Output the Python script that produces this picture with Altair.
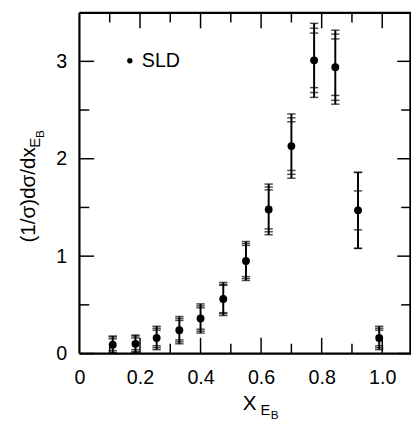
import altair as alt
import pandas as pd

# ---- data ----
x_vals = [0.11, 0.185, 0.255, 0.33, 0.40, 0.475, 0.55, 0.625, 0.70, 0.775, 0.845, 0.92, 0.99]
y_vals = [0.09, 0.10, 0.16, 0.24, 0.36, 0.56, 0.95, 1.48, 2.13, 3.01, 2.94, 1.47, 0.16]
err_stat = [0.06, 0.06, 0.08, 0.10, 0.11, 0.14, 0.16, 0.20, 0.25, 0.28, 0.29, 0.20, 0.08]
err_mid = [0.08, 0.08, 0.10, 0.12, 0.13, 0.15, 0.18, 0.23, 0.29, 0.33, 0.34, 0.39, 0.10]
err_tot = [0.09, 0.09, 0.12, 0.14, 0.15, 0.17, 0.20, 0.26, 0.33, 0.38, 0.38, 0.39, 0.12]

x_major_ticks = [0.2, 0.4, 0.6, 0.8, 1.0]
x_minor_ticks = [0.1, 0.3, 0.5, 0.7, 0.9]
y_major_ticks = [0, 1, 2, 3]
y_minor_ticks = [0.5, 1.5, 2.5]
x_label_values = [0, 0.2, 0.4, 0.6, 0.8, 1.0]
y_label_values = [0, 1, 2, 3]
legend_label = ["SLD"]

FONT = "Liberation Sans"
W, H = 337.5, 347
X_DOMAIN = [0, 1.095]
Y_DOMAIN = [0, 3.5]

df = pd.DataFrame({"x": x_vals, "y": y_vals,
                   "lo": [y - e for y, e in zip(y_vals, err_tot)],
                   "hi": [y + e for y, e in zip(y_vals, err_tot)]})

cap_rows = []
for xv, yv, a, b, c in zip(x_vals, y_vals, err_stat, err_mid, err_tot):
    for e in (a, b, c):
        cap_rows.append({"x": xv, "yc": yv + e})
        cap_rows.append({"x": xv, "yc": max(yv - e, 0.0)})
caps = pd.DataFrame(cap_rows)

xs = alt.Scale(domain=X_DOMAIN, nice=False, zero=False)
ys = alt.Scale(domain=Y_DOMAIN, nice=False, zero=False)

x_axis = alt.Axis(values=x_label_values, ticks=False, domain=False, grid=False,
                  labelExpr="datum.value == 0 ? '0' : format(datum.value, '.1f')",
                  labelFont=FONT, labelFontSize=20, labelColor="black",
                  labelPadding=14, labelFlush=False, labelOverlap=False, title="")
y_axis = alt.Axis(values=y_label_values, ticks=False, domain=False, grid=False,
                  format="d", labelFont=FONT, labelFontSize=20, labelColor="black",
                  labelPadding=13, labelFlush=False, labelOverlap=False, title="")

base = alt.Chart(df)

bars = base.mark_rule(color="black", strokeWidth=2).encode(
    x=alt.X("x:Q", scale=xs, axis=x_axis),
    y=alt.Y("lo:Q", scale=ys, axis=y_axis),
    y2="hi:Q",
)

cap_marks = alt.Chart(caps).mark_tick(color="black", thickness=1.5, size=8.5,
                                      orient="horizontal").encode(
    x=alt.X("x:Q", scale=xs),
    y=alt.Y("yc:Q", scale=ys),
)

points = base.mark_circle(color="black", opacity=1, size=64).encode(
    x=alt.X("x:Q", scale=xs),
    y=alt.Y("y:Q", scale=ys),
)


def vrules(vals, y0, y1, sw=1.5):
    return alt.Chart(pd.DataFrame({"v": vals})).mark_rule(
        color="black", strokeWidth=sw).encode(
        x=alt.X("v:Q", scale=xs), y=alt.value(y0), y2=alt.value(y1))


def hrules(vals, x0, x1, sw=1.5):
    return alt.Chart(pd.DataFrame({"v": vals})).mark_rule(
        color="black", strokeWidth=sw).encode(
        y=alt.Y("v:Q", scale=ys), x=alt.value(x0), x2=alt.value(x1))


ticks = [
    vrules(x_major_ticks, H, H - 16), vrules(x_minor_ticks, H, H - 10),
    vrules(x_major_ticks, 0, 16), vrules(x_minor_ticks, 0, 10),
    hrules(y_major_ticks, 0, 15), hrules(y_minor_ticks, 0, 10),
    hrules(y_major_ticks, W, W - 14), hrules(y_minor_ticks, W, W - 10),
]

# plot frame drawn at the scale domain edges
frame = [
    vrules([X_DOMAIN[0]], 0, H, 2.2),
    vrules([X_DOMAIN[1] - 0.002], 0, H, 2.2),
    hrules([Y_DOMAIN[0]], 0, W, 2.2),
    hrules([Y_DOMAIN[1] - 0.002], 0, W, 2.2),
]

leg = alt.Chart(pd.DataFrame({"label": legend_label}))
leg_dot = leg.mark_circle(color="black", opacity=1, size=30).encode(
    x=alt.value(51.3), y=alt.value(49))
leg_txt = leg.mark_text(font=FONT, fontSize=20, align="left", baseline="middle",
                        color="black").encode(
    x=alt.value(63.5), y=alt.value(49.5), text="label:N")


def txt(s, x, y, size, angle=0):
    return alt.Chart(pd.DataFrame({"t": [s]})).mark_text(
        font=FONT, fontSize=size, align="left", baseline="alphabetic",
        color="black", angle=angle).encode(
        x=alt.value(x), y=alt.value(y), text="t:N")


# x title: X with subscript E_B
xt = [txt("X", 166.3, 404, 21), txt("E", 184.3, 409.5, 15), txt("B", 194.8, 414, 12)]
# y title rotated: (1/σ)dσ/dx with subscript E_B
yt = [txt("(1/σ)dσ/dx", -45.7, 234, 21, 270),
      txt("E", -40.2, 137.5, 15, 270),
      txt("B", -35.7, 127.5, 12, 270)]

chart = alt.layer(*frame, bars, cap_marks, points, *ticks, leg_dot, leg_txt,
                  *xt, *yt).properties(
    width=W, height=H,
    autosize=alt.AutoSizeParams(type="none"),
    padding={"left": 72.7, "top": 1, "right": 0, "bottom": 69},
).configure_view(stroke=None).configure(background="white")

chart.save("out.html", embed_options={"renderer": "svg", "actions": False})
